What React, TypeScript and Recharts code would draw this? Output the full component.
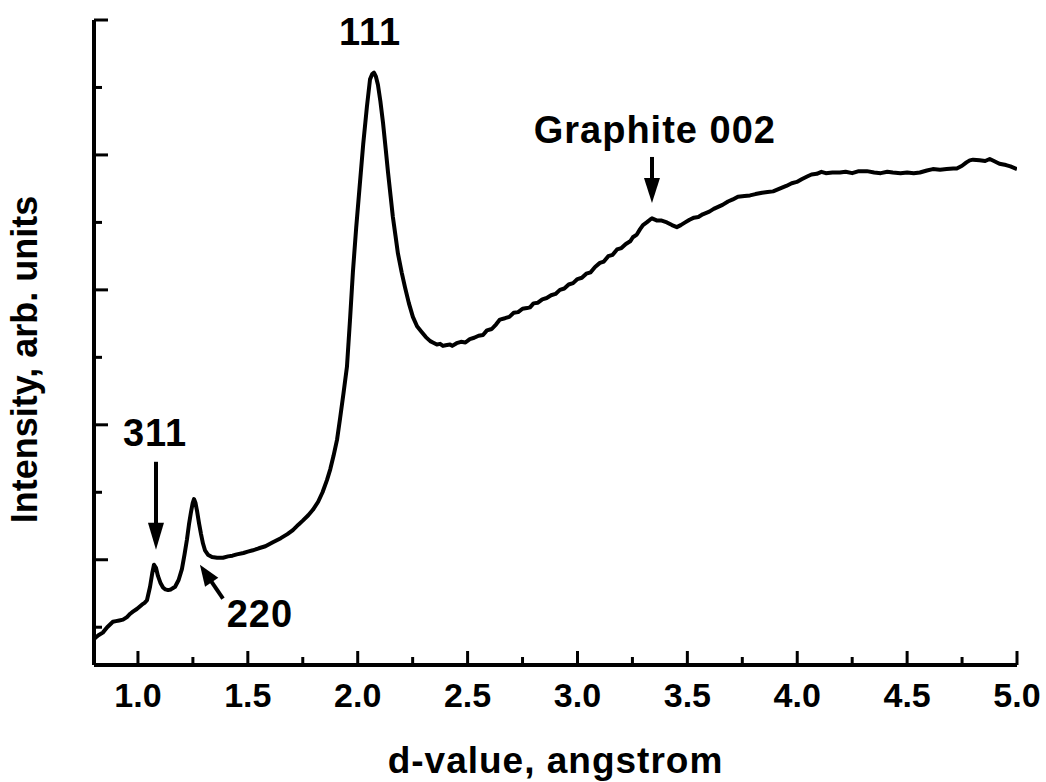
import React from 'react'
import { Line, LineChart, ReferenceDot, ReferenceLine, XAxis, YAxis } from 'recharts'

// d-spacing (angstrom) and intensity (arb. units)
const dValues = [
  0.8, 0.805, 0.82, 0.84, 0.86, 0.873, 0.886, 0.9, 0.915, 0.932, 0.95, 0.965, 0.977, 0.995, 1.018, 1.03,
  1.041, 1.055, 1.065, 1.073, 1.082, 1.091, 1.102, 1.114, 1.125, 1.137, 1.15, 1.169, 1.185, 1.2, 1.212,
  1.223, 1.232, 1.241, 1.249, 1.255, 1.262, 1.269, 1.278, 1.287, 1.296, 1.305, 1.32, 1.337, 1.36, 1.387,
  1.41, 1.43, 1.45, 1.48, 1.5, 1.523, 1.55, 1.58, 1.614, 1.65, 1.68, 1.705, 1.73, 1.75, 1.775, 1.796,
  1.82, 1.84, 1.86, 1.875, 1.89, 1.906, 1.92, 1.935, 1.951, 1.965, 1.978, 1.993, 2.01, 2.025, 2.042,
  2.056, 2.066, 2.074, 2.083, 2.092, 2.103, 2.115, 2.127, 2.138, 2.15, 2.16, 2.172, 2.183, 2.2, 2.215,
  2.233, 2.251, 2.27, 2.29, 2.31, 2.33, 2.342, 2.36, 2.375, 2.388, 2.4, 2.42, 2.43, 2.45, 2.47, 2.49,
  2.51, 2.53, 2.55, 2.57, 2.588, 2.61, 2.63, 2.647, 2.67, 2.69, 2.71, 2.73, 2.75, 2.77, 2.784, 2.8,
  2.82, 2.84, 2.86, 2.88, 2.9, 2.92, 2.94, 2.96, 2.98, 3.0, 3.02, 3.04, 3.06, 3.08, 3.102, 3.12, 3.14,
  3.16, 3.18, 3.2, 3.22, 3.24, 3.252, 3.27, 3.285, 3.298, 3.315, 3.33, 3.339, 3.36, 3.38, 3.407, 3.43,
  3.452, 3.47, 3.49, 3.51, 3.53, 3.55, 3.57, 3.6, 3.62, 3.64, 3.66, 3.685, 3.707, 3.73, 3.76, 3.785,
  3.81, 3.84, 3.865, 3.89, 3.92, 3.95, 3.975, 3.998, 4.02, 4.045, 4.065, 4.089, 4.11, 4.13, 4.16, 4.194,
  4.22, 4.25, 4.28, 4.317, 4.35, 4.38, 4.41, 4.435, 4.47, 4.5, 4.53, 4.558, 4.59, 4.617, 4.65, 4.68,
  4.71, 4.726, 4.75, 4.77, 4.785, 4.8, 4.83, 4.855, 4.876, 4.895, 4.92, 4.95, 4.97, 5.0,
]
const intensity = [
  0.41, 0.42, 0.44, 0.46, 0.5, 0.52, 0.54, 0.545, 0.55, 0.556, 0.575, 0.6, 0.615, 0.635, 0.667, 0.68,
  0.7, 0.8, 0.9, 0.963, 0.94, 0.88, 0.83, 0.795, 0.78, 0.775, 0.78, 0.8, 0.85, 0.93, 1.04,
  1.15, 1.26, 1.35, 1.42, 1.45, 1.42, 1.36, 1.27, 1.19, 1.12, 1.07, 1.035, 1.02, 1.015, 1.015,
  1.025, 1.03, 1.04, 1.05, 1.06, 1.07, 1.085, 1.1, 1.13, 1.16, 1.19, 1.22, 1.26, 1.29, 1.33, 1.37,
  1.43, 1.5, 1.59, 1.67, 1.77, 1.89, 2.05, 2.23, 2.43, 2.78, 3.13, 3.46, 3.79, 4.08, 4.36,
  4.56, 4.6, 4.61, 4.58, 4.52, 4.4, 4.24, 4.05, 3.87, 3.69, 3.54, 3.4, 3.27, 3.13, 3.02,
  2.9, 2.8, 2.73, 2.69, 2.65, 2.62, 2.61, 2.595, 2.6, 2.585, 2.59, 2.595, 2.585, 2.605, 2.615, 2.61,
  2.635, 2.645, 2.66, 2.665, 2.7, 2.71, 2.745, 2.78, 2.79, 2.8, 2.83, 2.835, 2.86, 2.865, 2.87, 2.9,
  2.905, 2.93, 2.94, 2.96, 2.97, 3.0, 3.01, 3.04, 3.05, 3.08, 3.09, 3.12, 3.13, 3.17, 3.2, 3.21, 3.25,
  3.26, 3.3, 3.31, 3.34, 3.36, 3.39, 3.41, 3.45, 3.48, 3.5, 3.52, 3.53, 3.515, 3.515, 3.5, 3.48,
  3.465, 3.48, 3.5, 3.52, 3.535, 3.54, 3.56, 3.58, 3.6, 3.615, 3.63, 3.655, 3.67, 3.69, 3.695, 3.7,
  3.71, 3.72, 3.725, 3.73, 3.75, 3.77, 3.79, 3.8, 3.82, 3.84, 3.855, 3.86, 3.875, 3.865, 3.87, 3.87,
  3.875, 3.865, 3.88, 3.88, 3.87, 3.865, 3.875, 3.87, 3.865, 3.87, 3.865, 3.87, 3.885, 3.895, 3.89, 3.895,
  3.9, 3.9, 3.92, 3.945, 3.96, 3.965, 3.96, 3.955, 3.97, 3.955, 3.935, 3.925, 3.915, 3.895,
]

const xTicks = [1, 1.25, 1.5, 1.75, 2, 2.25, 2.5, 2.75, 3, 3.25, 3.5, 3.75, 4, 4.25, 4.5, 4.75, 5]
const yTicks = [0.5, 1, 1.5, 2, 2.5, 3, 3.5, 4, 4.5, 5]

// peak labels and arrows (data coordinates)
const peakLabels = [
  { text: '111', d: 2.056, v: 4.815 },
  { text: '311', d: 1.078, v: 1.844 },
  { text: '220', d: 1.555, v: 0.504 },
  { text: 'Graphite 002', d: 3.352, v: 4.089 },
]
const arrows = [
  { from: { d: 1.082, v: 1.726 }, to: { d: 1.082, v: 1.185 }, tip: { d: 1.082, v: 1.074 }, angle: 0, len: 27 },
  { from: { d: 1.387, v: 0.711 }, to: { d: 1.308, v: 0.9 }, tip: { d: 1.282, v: 0.963 }, angle: 146, len: 21 },
  { from: { d: 3.339, v: 3.985 }, to: { d: 3.339, v: 3.733 }, tip: { d: 3.339, v: 3.644 }, angle: 0, len: 25 },
]

const data = dValues.map((d, i) => ({ d, v: intensity[i] }))

const FONT = "'Liberation Sans', Arial, Helvetica, sans-serif"

function isMajor(v: number) {
  return Math.abs(v * 2 - Math.round(v * 2)) < 1e-6
}

function XTick(props: any) {
  const { x, y, payload } = props
  const major = isMajor(payload.value)
  return (
    <g>
      <line x1={x} x2={x} y1={y} y2={y - (major ? 14 : 8)} stroke="#000" strokeWidth={3} />
      {major && (
        <text x={x} y={y + 42} textAnchor="middle" fontFamily={FONT} fontWeight="bold" fontSize={34} fill="#000">
          {payload.value.toFixed(1)}
        </text>
      )}
    </g>
  )
}

function YTick(props: any) {
  const { x, y, payload } = props
  const major = payload.value % 1 === 0
  return <line x1={x} x2={x + (major ? 14 : 8)} y1={y} y2={y} stroke="#000" strokeWidth={3} />
}

function arrowHead(angle: number, len: number) {
  return (p: any) => (
    <polygon
      points={`${p.cx},${p.cy} ${p.cx - 8},${p.cy - len} ${p.cx + 8},${p.cy - len}`}
      transform={`rotate(${angle} ${p.cx} ${p.cy})`}
      fill="#000"
    />
  )
}

function textShape(text: string) {
  return (p: any) => (
    <text x={p.cx} y={p.cy} textAnchor="middle" fontFamily={FONT} fontWeight="bold" fontSize={38} letterSpacing={1} fill="#000">
      {text}
    </text>
  )
}

export default function App() {
  return (
    <div style={{ position: 'absolute', left: 0, top: 0, background: '#fff' }}>
      <LineChart width={1046} height={782} data={data} margin={{ top: 20, right: 29, left: 14, bottom: 17 }}>
        <XAxis
          dataKey="d"
          type="number"
          domain={[0.8, 5]}
          ticks={xTicks}
          allowDataOverflow
          height={100}
          tickSize={0}
          tickMargin={0}
          tickLine={false}
          tick={<XTick />}
          interval={0}
          axisLine={{ stroke: '#000', strokeWidth: 4 }}
          label={{
            content: (p: any) => (
              <text
                x={p.viewBox.x + p.viewBox.width / 2}
                y={p.viewBox.y + 108}
                textAnchor="middle"
                fontFamily={FONT}
                fontWeight="bold"
                fontSize={37}
                letterSpacing={1}
                fill="#000"
              >
                d-value, angstrom
              </text>
            ),
          }}
        />
        <YAxis
          type="number"
          domain={[0.22, 5]}
          ticks={yTicks}
          allowDataOverflow
          width={80}
          tickSize={0}
          tickMargin={0}
          tickLine={false}
          tick={<YTick />}
          interval={0}
          axisLine={{ stroke: '#000', strokeWidth: 4 }}
          label={{
            content: (p: any) => {
              const cx = 37
              const cy = p.viewBox.y + p.viewBox.height / 2 + 17
              return (
                <text
                  x={cx}
                  y={cy}
                  transform={`rotate(-90 ${cx} ${cy})`}
                  textAnchor="middle"
                  fontFamily={FONT}
                  fontWeight="bold"
                  fontSize={36}
                  fill="#000"
                >
                  Intensity, arb. units
                </text>
              )
            },
          }}
        />
        <Line
          type="linear"
          dataKey="v"
          stroke="#000"
          strokeWidth={4}
          dot={false}
          isAnimationActive={false}
          strokeLinejoin="round"
        />
        {arrows.map((a, i) => (
          <ReferenceLine
            key={'s' + i}
            segment={[
              { x: a.from.d, y: a.from.v },
              { x: a.to.d, y: a.to.v },
            ]}
            stroke="#000"
            strokeWidth={4}
          />
        ))}
        {arrows.map((a, i) => (
          <ReferenceDot key={'h' + i} x={a.tip.d} y={a.tip.v} r={0} shape={arrowHead(a.angle, a.len)} />
        ))}
        {peakLabels.map(l => (
          <ReferenceDot key={l.text} x={l.d} y={l.v} r={0} shape={textShape(l.text)} />
        ))}
      </LineChart>
    </div>
  )
}
